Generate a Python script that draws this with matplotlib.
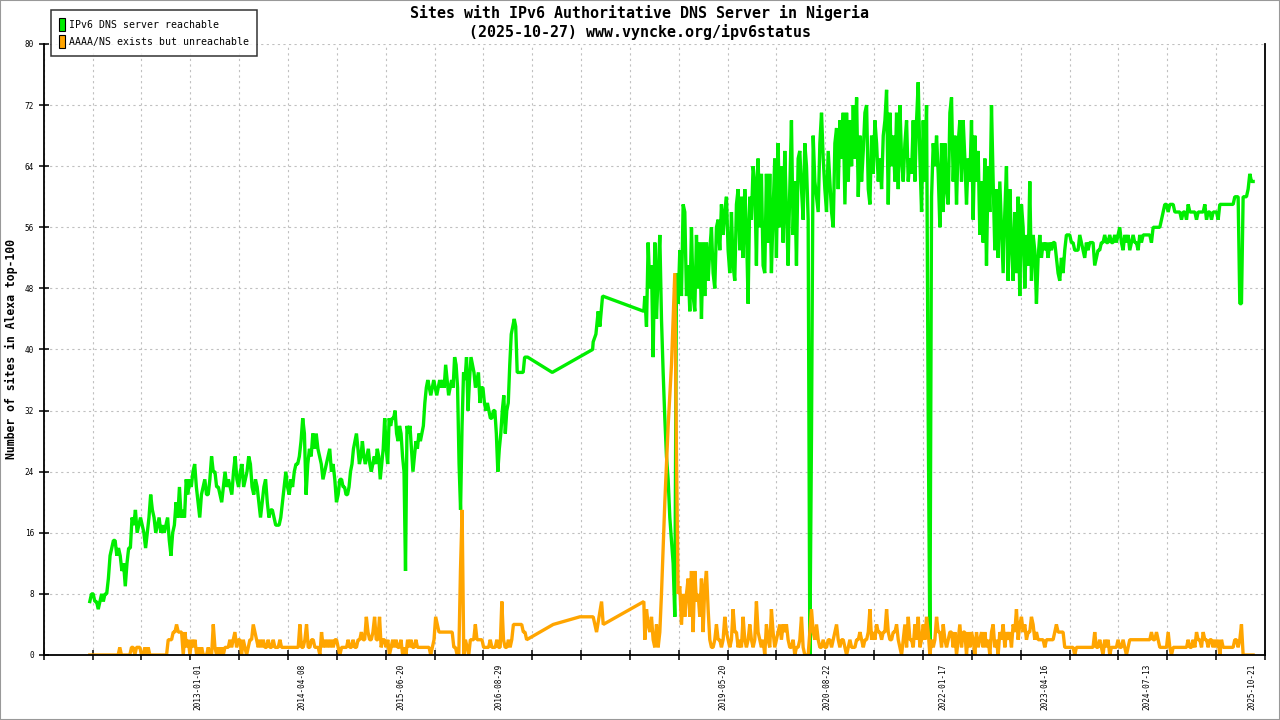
import numpy as np
import matplotlib
matplotlib.use("Agg")
import matplotlib.pyplot as plt
import matplotlib.dates as mdates
from matplotlib.patches import Patch, Rectangle
from matplotlib.ticker import NullFormatter
from datetime import datetime

plt.rcParams['font.family'] = ['DejaVu Sans Mono']

title1 = "Sites with IPv6 Authoritative DNS Server in Nigeria"
title2 = "(2025-10-27) www.vyncke.org/ipv6status"
ylabel = "Number of sites in Alexa top-100"
names = ["IPv6 DNS server reachable", "AAAA/NS exists but unreachable"]

tick_labels = ["2013-01-01", "2014-04-08", "2015-06-20", "2016-08-29", "2019-05-20",
               "2020-08-22", "2022-01-17", "2023-04-16", "2024-07-13", "2025-10-21"]
x_limits = ["2011-02-15", "2025-12-19"]
y_ticks = list(range(0, 81, 8))

# dense parts: (start year, end year) for each block of regularly sampled values
seg_start = [2011.684, 2014.743, 2018.428, 2022.155]
seg_end = [2014.722, 2017.003, 2022.135, 2025.820]
oseg_end = [2014.722, 2016.991, 2022.135, 2025.820]

green_a = [7,8,8,7,7,6,7,8,7,8,8,10,13,14,15,15,13,14,13,11,12,9,12,14,14,18,17,19,16,17,
           18,17,16,14,16,18,21,19,18,16,17,18,16,17,16,17,18,15,13,16,17,20,18,22,18,19,18,
           23,21,23,22,24,25,22,20,18,21,22,23,21,21,23,26,24,24,22,22,21,20,22,24,22,23,22,
           21,24,26,23,22,24,25,22,23,24,26,25,22,21,23,22,20,18,20,22,23,20,18,19,19,18,17,
           17,17,18,20,22,24,22,21,23,22,24,25,25,26,28,31,29,21,25,27,26,29,27,29,27,26,25,
           23,24,25,26,27,24,25,23,20,21,23]
green_b = [23,22,22,21,21,22,24,25,27,28,29,27,25,26,28,26,25,26,27,25,24,25,26,25,27,26,
           23,25,27,31,27,25,31,30,31,31,32,29,28,30,29,26,24,11,30,29,30,27,24,26,28,27,29,
           28,29,30,33,35,36,35,34,35,36,35,34,35,36,35,36,35,38,36,34,35,36,35,39,38,35,25,
           19,30,37,36,39,32,36,39,38,37,35,36,37,33,35,35,33,32,33,32,31,31,32,32,29,24,27,
           29,32,34,29,32,33,38,42,43,44,43,37,37,37,37,37,39,39,39]
green_c = [47,43,54,48,51,39,54,44,50,55,44,37,31,26,23,18,15,12,5,50,46,53,47,59,58,47,51,
           45,56,47,45,55,48,54,44,54,47,54,49,53,56,50,48,56,57,53,59,55,58,60,53,50,58,51,
           49,59,61,53,60,52,61,56,46,60,57,64,62,51,65,56,63,51,50,63,54,63,50,58,65,52,67,
           56,64,54,66,58,51,61,70,55,62,51,65,66,61,57,67,64,57,0,29,68,62,60,58,67,71,65,61,
           58,66,62,58,56,67,69,61,70,65,71,59,71,62,70,64,72,65,73,60,68,62,66,71,72,61,59,
           68,63,70,67,62,65,61,68,70,74,59,71,64,68,62,71,61,72,65,62,67,70,62,65,63,70,62,
           70,75,65,58,70,62,72,31,0,60,67,64,68,63,56,67,58,67,61,59,71]
green_d = [73,62,68,59,67,70,62,70,65,59,65,62,70,57,68,62,66,55,62,54,65,51,64,58,72,62,53,
           61,52,62,56,50,58,64,49,61,54,49,58,50,60,47,59,56,48,55,51,62,49,55,53,46,52,55,
           52,54,53,54,52,54,53,54,54,52,50,49,52,50,53,55,55,55,54,54,53,53,53,55,54,53,52,
           54,53,54,54,54,51,52,53,53,54,54,55,54,54,55,54,54,55,54,55,56,54,53,55,54,55,53,
           54,55,54,54,53,55,54,55,55,55,55,55,54,56,56,56,56,56,57,58,59,59,58,59,59,59,58,
           58,58,58,57,58,58,57,59,58,58,58,58,57,58,58,58,58,59,57,58,58,57,58,58,58,57,59,
           59,59,59,59,59,59,59,59,60,60,60,46,46,60,60,60,61,63,62,62]

orange_a = ([0]*18 + [1] + [0]*6 + [1,1,0,1,1,1,0,0,1,0,1] + [0]*11 +
            [2,2,2,3,3,4,3,3,3,0,3,1,2,0,2,1,2,0,1,0,1,0,0,0,1,0,0,4,1,0,1,0,1,0,1,1,1,2,1,2,
             3,1,2,2,0,2,1,0,1,2,2,4,3,2,1,2,1,2,1,1,2,1,1,2,1,1,1,2] + [1]*11 +
            [4,1,1,2,4,1,1,2,2,1,1,1,0,3,1,2,1,2,1,2,1,2,2,1,0])
orange_b = [1,1,1,1,2,1,1,2,1,1,2,2,3,2,2,5,3,2,2,3,5,2,2,5,1,2,2,1,2,0,1,2,1,2,1,1,2,0,1,0,
            2,1,2,1,1,2,1,1,1,1,1,1,1,1,0,1,2,5,4,3,3,3,3,3,3,3,3,3,1,1,0,0,11,19,0,2,1,0,2,
            2,2,4,2,2,2,2,1,1,1,1,2,1,1,1,2,1,1,7,2,1,1,2,1,2,4,4,4,4,4,4,3,3,2]
orange_c = [2,6,4,3,5,2,1,4,1,3,8,14,20,25,30,34,38,44,50,26,8,9,4,8,5,8,10,5,11,3,11,7,8,5,
            10,3,9,11,6,2,1,1,2,4,2,2,1,2,5,3,2,1,2,6,3,3,1,2,1,5,2,1,2,4,2,1,2,7,3,2,1,2,0,
            4,2,1,6,3,1,2,3,4,2,4,3,4,2,1,1,2,0,1,1,2,5,1,0,0,0,3,6,3,2,4,2,1,1,2,1,1,2,2,1,
            2,3,4,2,1,2,2,1,0,1,2,1,1,1,2,2,3,2,1,2,2,3,6,2,3,2,4,3,3,2,3,3,6,3,2,2,3,3,4,2,
            1,0,2,4,1,5,2,2,1,4,2,5,1,2,4,2,5,3,0,2,1,2,5,3,3,1,4,2,1,2,3]
orange_d = [3,1,3,0,2,4,1,3,3,0,3,1,3,2,0,3,1,2,3,1,3,1,2,0,3,4,1,2,0,3,2,4,1,3,2,3,1,4,3,6,
            2,4,5,3,4,2,3,3,5,4,2,3,2,2,2,2,1,2,2,2,2,2,3,4,3,3,3,3,1,1,1,1,1,1,0,1,1,1,1,1,
            1,1,1,1,1,1,3,1,1,2,1,0,2,1,2,0,1,1,1,1,2,1,1,2,1,0,1,2,2,2,2,2,2,2,2,2,2,2,2,2,
            3,2,2,3,2,1,1,1,1,1,3,1,0,1,1,1,1,1,1,1,1,1,2,1,1,2,1,3,2,2,1,3,2,2,1,2,2,1,2,1,
            2,0,2,1,1,1,1,1,1,1,2,2,1,2,4,0,0,0,0,0,0,0]

# sparse part (2017-2018) where only a few measurements exist
green_gap_years = [2017.302, 2017.793, 2017.800, 2017.833, 2017.861, 2017.881, 2017.914, 2018.416]
green_gap_vals = [37, 40, 41, 42, 45, 43, 47, 45]
orange_gap_years = [2017.314, 2017.638, 2017.800, 2017.841, 2017.902, 2017.922, 2018.416]
orange_gap_vals = [4, 5, 5, 3, 7, 4, 7]


def yr2num(y):
    y = np.asarray(y, dtype=float)
    out = []
    for v in y:
        yi = int(np.floor(v))
        a = mdates.date2num(datetime(yi, 1, 1))
        b = mdates.date2num(datetime(yi + 1, 1, 1))
        out.append(a + (v - yi) * (b - a))
    return np.array(out)


def build(blocks, starts, ends, gap_years, gap_vals):
    xs, ys = [], []
    for i, vals in enumerate(blocks):
        yrs = np.linspace(starts[i], ends[i], len(vals))
        xs.append(yrs)
        ys.append(np.array(vals, dtype=float))
        if i == 1:
            xs.append(np.array(gap_years))
            ys.append(np.array(gap_vals, dtype=float))
    return yr2num(np.concatenate(xs)), np.concatenate(ys)


gx, gy = build([green_a, green_b, green_c, green_d], seg_start, seg_end,
               green_gap_years, green_gap_vals)
ox, oy = build([orange_a, orange_b, orange_c, orange_d], seg_start, oseg_end,
               orange_gap_years, orange_gap_vals)

fig = plt.figure(figsize=(12.8, 7.2), dpi=100)
ax = fig.add_axes([0.03414, 0.09028, 0.95414, 0.84861])

ax.plot(gx, gy, color='#00ee00', lw=2.4, solid_joinstyle='bevel')
ax.plot(ox, oy, color='#ffa500', lw=2.4, solid_joinstyle='bevel')

xlo, xhi = [mdates.date2num(datetime.strptime(s, "%Y-%m-%d")) for s in x_limits]
ax.set_xlim(xlo, xhi)
ax.set_ylim(0, 80)

ax.set_xticks(np.linspace(xlo, xhi, 26))
ax.xaxis.set_major_formatter(NullFormatter())
label_nums = [mdates.date2num(datetime.strptime(s, "%Y-%m-%d")) for s in tick_labels]
ax.set_xticks(label_nums, labels=tick_labels, minor=True)
ax.tick_params(axis='x', which='minor', length=0, pad=6, labelsize=5.6, labelrotation=90)
ax.tick_params(axis='x', which='major', direction='inout', length=7, width=1.1)
ax.set_yticks(y_ticks)
ax.tick_params(axis='y', direction='inout', length=7, width=1.1, labelsize=5.6, pad=3.5)

ax.grid(True, which='major', color='#c0c0c0', linestyle=(0, (2, 3)), lw=0.8)
ax.set_axisbelow(True)

ax.spines['top'].set_visible(False)
for s in ['left', 'bottom', 'right']:
    ax.spines[s].set_linewidth(1.3)

ax.set_ylabel(ylabel, fontsize=8.3, fontweight='bold')
ax.yaxis.set_label_coords(-0.021, 0.5)

fig.text(0.5, 1 - 13.3 / 720, title1, ha='center', va='center', fontsize=10.8, fontweight='bold')
fig.text(0.5, 1 - 32.3 / 720, title2, ha='center', va='center', fontsize=10.8, fontweight='bold')

handles = [Patch(facecolor='#00ee00', edgecolor='black', lw=0.8),
           Patch(facecolor='#ffa500', edgecolor='black', lw=0.8)]
leg = fig.legend(handles, names, loc='upper left', bbox_to_anchor=(50.7 / 1280, 1 - 10.3 / 720),
                 fontsize=7.1, frameon=True, fancybox=False, edgecolor='black',
                 handlelength=0.6, handleheight=1.6, handletextpad=0.5, labelspacing=0.45,
                 borderpad=0.8, borderaxespad=0)
leg.get_frame().set_linewidth(1.1)

fig.patches.append(Rectangle((0, 0), 1, 1, transform=fig.transFigure, fill=False,
                             edgecolor='#999999', lw=1.5))

fig.savefig("out.png", dpi=100)
